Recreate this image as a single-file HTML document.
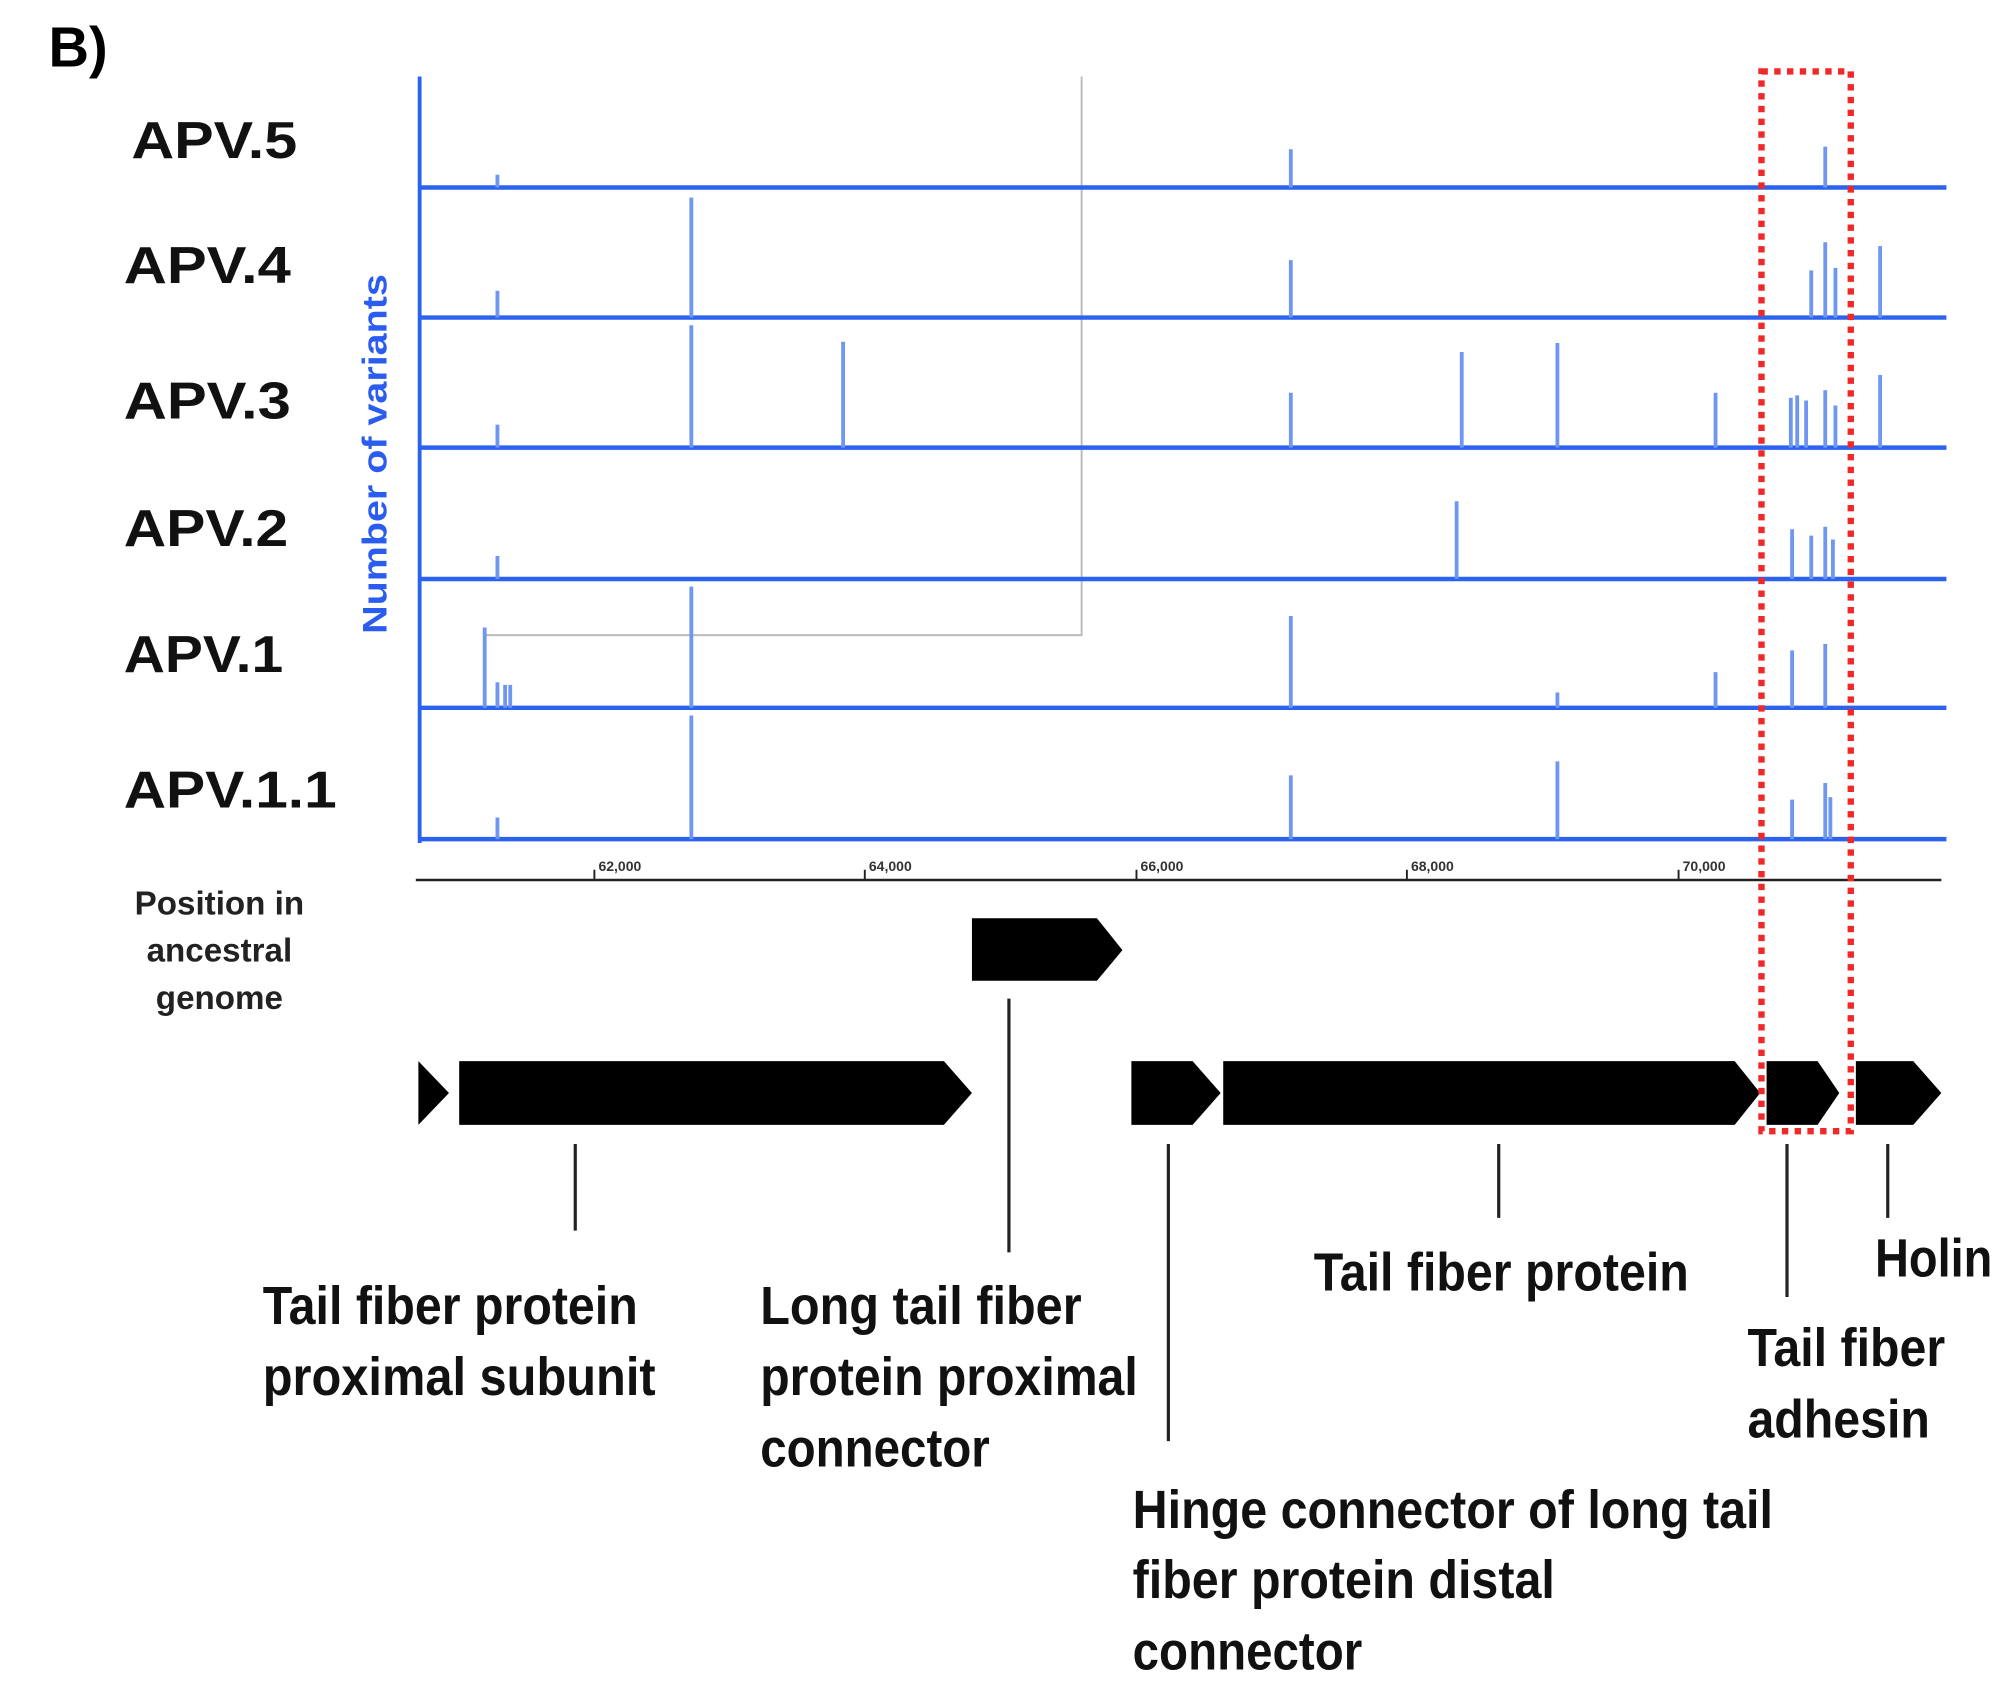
<!DOCTYPE html>
<html><head><meta charset="utf-8"><style>html,body{margin:0;padding:0;background:#fff}svg{display:block}</style></head>
<body>
<svg width="2000" height="1700" viewBox="0 0 1568 1333" preserveAspectRatio="none" xmlns="http://www.w3.org/2000/svg" font-family="Liberation Sans, sans-serif">
<rect width="1568" height="1333" fill="#fff"/>
<text x="38" y="52" font-size="44" font-weight="bold">B)</text>
<g font-size="41" font-weight="bold" fill="#111" lengthAdjust="spacingAndGlyphs">
<text x="103" y="124" textLength="130" lengthAdjust="spacingAndGlyphs">APV.5</text>
<text x="97" y="222" textLength="131" lengthAdjust="spacingAndGlyphs">APV.4</text>
<text x="97" y="328" textLength="131" lengthAdjust="spacingAndGlyphs">APV.3</text>
<text x="97" y="428" textLength="129" lengthAdjust="spacingAndGlyphs">APV.2</text>
<text x="97" y="527" textLength="125" lengthAdjust="spacingAndGlyphs">APV.1</text>
<text x="97" y="633" textLength="167" lengthAdjust="spacingAndGlyphs">APV.1.1</text>
</g>
<text transform="translate(303,356) rotate(-90)" text-anchor="middle" font-size="27" font-weight="bold" fill="#2b5cf0" textLength="282" lengthAdjust="spacingAndGlyphs">Number of variants</text>
<g font-size="26" font-weight="bold" fill="#222" text-anchor="middle">
<text x="172" y="717">Position in</text>
<text x="172" y="754">ancestral</text>
<text x="172" y="791">genome</text>
</g>
<path d="M848 60 V498 H380" fill="none" stroke="#bbb" stroke-width="1.5"/>
<line x1="329" y1="60" x2="329" y2="661" stroke="#2b63f0" stroke-width="3"/>
<g stroke="#2b63f0" stroke-width="3.5">
<line x1="329" y1="147" x2="1526" y2="147"/>
<line x1="329" y1="249" x2="1526" y2="249"/>
<line x1="329" y1="351" x2="1526" y2="351"/>
<line x1="329" y1="454" x2="1526" y2="454"/>
<line x1="329" y1="555" x2="1526" y2="555"/>
<line x1="329" y1="658" x2="1526" y2="658"/>
</g>
<g stroke="#6f97f2" stroke-width="3">
<path d="M390 147V137M1012 147V117M1431 147V115"/>
<path d="M390 249V228M542 249V155M1012 249V204M1420 249V212M1431 249V190M1439 249V210M1474 249V193"/>
<path d="M390 351V333M542 351V255M661 351V268M1012 351V308M1146 351V276M1221 351V269M1345 351V308M1404 351V312M1409 351V310M1416 351V314M1431 351V306M1439 351V318M1474 351V294"/>
<path d="M390 454V436M1142 454V393M1405 454V415M1420 454V420M1431 454V413M1437 454V423"/>
<path d="M380 555V492M390 555V535M396 555V537M400 555V537M542 555V460M1012 555V483M1221 555V543M1345 555V527M1405 555V510M1431 555V505"/>
<path d="M390 658V641M542 658V561M1012 658V608M1221 658V597M1405 658V627M1431 658V614M1435 658V625"/>
</g>
<line x1="326" y1="690" x2="1522" y2="690" stroke="#222" stroke-width="2"/>
<g stroke="#222" stroke-width="1.5"><path d="M466 690v-8M678 690v-8M891 690v-8M1103 690v-8M1316 690v-8"/></g>
<g font-size="11" font-weight="bold" fill="#333" text-anchor="middle">
<text x="486" y="683">62,000</text><text x="698" y="683">64,000</text><text x="911" y="683">66,000</text><text x="1123" y="683">68,000</text><text x="1336" y="683">70,000</text>
</g>
<g fill="#000">
<polygon points="762,720 860,720 880,745 860,769 762,769"/>
<polygon points="328,832 352,857 328,882"/>
<polygon points="360,832 740,832 762,857 740,882 360,882"/>
<polygon points="887,832 935,832 957,857 935,882 887,882"/>
<polygon points="959,832 1360,832 1380,857 1360,882 959,882"/>
<polygon points="1385,832 1425,832 1442,857 1425,882 1385,882"/>
<polygon points="1455,832 1500,832 1522,857 1500,882 1455,882"/>
</g>
<g stroke="#222" stroke-width="2.5">
<path d="M451 897V965M791 783V982M916 897V1130M1175 897V955M1401 897V1017M1480 897V955"/>
</g>
<g font-family="Liberation Sans Narrow, Liberation Sans, sans-serif" font-size="42" font-weight="bold" fill="#111">
<text x="206" y="1038" textLength="294" lengthAdjust="spacingAndGlyphs">Tail fiber protein</text>
<text x="206" y="1094" textLength="308" lengthAdjust="spacingAndGlyphs">proximal subunit</text>
<text x="596" y="1038" textLength="252" lengthAdjust="spacingAndGlyphs">Long tail fiber</text>
<text x="596" y="1094" textLength="296" lengthAdjust="spacingAndGlyphs">protein proximal</text>
<text x="596" y="1150" textLength="180" lengthAdjust="spacingAndGlyphs">connector</text>
<text x="1030" y="1012" textLength="294" lengthAdjust="spacingAndGlyphs">Tail fiber protein</text>
<text x="1470" y="1001" textLength="92" lengthAdjust="spacingAndGlyphs">Holin</text>
<text x="1370" y="1071" textLength="155" lengthAdjust="spacingAndGlyphs">Tail fiber</text>
<text x="1370" y="1127" textLength="143" lengthAdjust="spacingAndGlyphs">adhesin</text>
<text x="888" y="1198" textLength="502" lengthAdjust="spacingAndGlyphs">Hinge connector of long tail</text>
<text x="888" y="1253" textLength="331" lengthAdjust="spacingAndGlyphs">fiber protein distal</text>
<text x="888" y="1309" textLength="180" lengthAdjust="spacingAndGlyphs">connector</text>
</g>
<rect x="1381" y="56" width="70" height="831" fill="none" stroke="#f02828" stroke-width="5" stroke-dasharray="5 5"/>
</svg>
</body></html>
